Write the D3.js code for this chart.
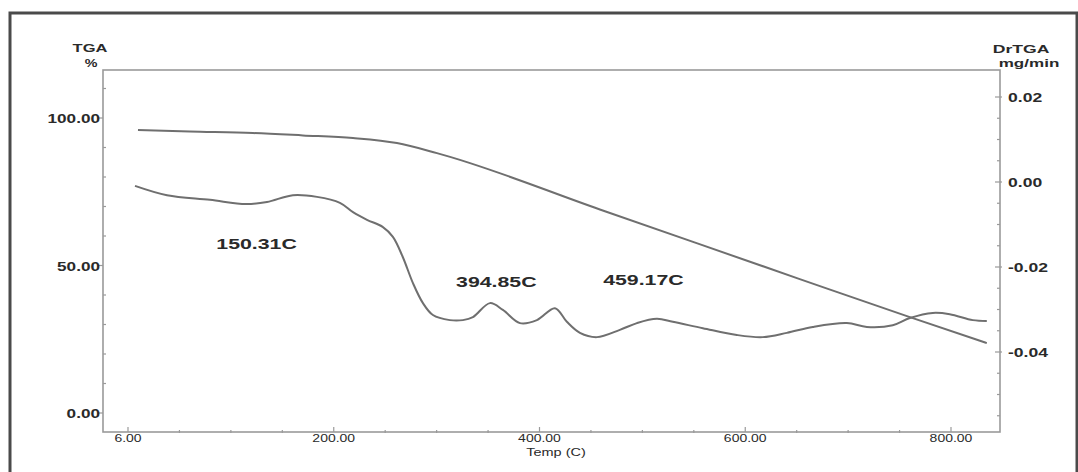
<!DOCTYPE html>
<html>
<head>
<meta charset="utf-8">
<script src="https://cdn.jsdelivr.net/npm/d3@7"></script>
<style>
  html, body { margin: 0; padding: 0; background: #fff; }
  svg { display: block; }
  text { font-family: "Liberation Sans", Arial, sans-serif; fill: #2a2a2a; }
</style>
</head>
<body>
<svg id="chart" width="1078" height="472"></svg>
<script>
// Temperature (C) for the TGA weight curve and its weight (%)
const tgaTemp = [9.7, 60, 121.5, 170, 218.7, 261.4, 300.3, 458.7, 653.0, 760.0, 834.8];
const tgaWeight = [95.9, 95.4, 94.9, 94.1, 93.2, 91.5, 88.1, 69.0, 45.4, 32.5, 23.7];

// Temperature (C) for the derivative curve and its rate (mg/min)
const dtgTemp = [6.8, 37.9, 79.7, 114.7, 135.1, 160.3, 183.7, 206.0, 218.7, 232.3,
  247.8, 257.5, 267.2, 277.0, 286.7, 296.4, 312.9, 325.6, 335.3, 351.8,
  364.4, 381.0, 397.5, 415.0, 426.6, 439.3, 455.8, 478.1, 494.7, 514.1,
  529.6, 558.8, 591.8, 617.1, 640.4, 665.7, 698.7, 718.2, 743.4, 760.0,
  782.3, 798.8, 821.2, 834.8];
const dtgRate = [-0.0009, -0.0031, -0.0042, -0.0052, -0.0047, -0.0031, -0.0035, -0.0049, -0.0071, -0.0089,
  -0.0106, -0.0129, -0.0177, -0.0238, -0.0285, -0.0313, -0.0325, -0.0325, -0.0318, -0.0285,
  -0.0301, -0.0332, -0.0325, -0.0297, -0.0329, -0.0355, -0.0365, -0.0348, -0.0332, -0.0322,
  -0.0329, -0.0344, -0.0360, -0.0365, -0.0355, -0.0341, -0.0332, -0.0341, -0.0337, -0.0320,
  -0.0308, -0.0311, -0.0325, -0.0327];

// Axis ticks
const xTickValues = [0, 200, 400, 600, 800];
const xTickLabels = ["6.00", "200.00", "400.00", "600.00", "800.00"];
const leftTickValues = [0, 50, 100];
const leftTickLabels = ["0.00", "50.00", "100.00"];
const rightTickValues = [0.02, 0.00, -0.02, -0.04];
const rightTickLabels = ["0.02", "0.00", "-0.02", "-0.04"];

// Peak annotations
const peakLabels = ["150.31C", "394.85C", "459.17C"];
const peakLabelTemp = [125, 358, 501];
const peakLabelRate = [-0.0146, -0.0236, -0.0231];

const svg = d3.select("#chart");
const plot = { left: 103, right: 1000, top: 70, bottom: 432 };

const x = d3.scaleLinear().domain([0, 800]).range([128, 951]);
const yL = d3.scaleLinear().domain([0, 100]).range([413, 118]);
const yR = d3.scaleLinear().domain([0.02, -0.04]).range([97, 352]);

// Stretched text helper (glyphs in this plot are drawn wide)
function label(x0, y0, str, size, sx, anchor, weight) {
  return svg.append("text")
    .attr("transform", `translate(${x0},${y0}) scale(${sx},1)`)
    .attr("text-anchor", anchor || "middle")
    .attr("font-size", size)
    .attr("font-weight", weight || "bold")
    .text(str);
}

// Outer frame
svg.append("path")
  .attr("d", "M10,472 L10,13 L1077,13 L1077,472")
  .attr("fill", "none").attr("stroke", "#4a4a4a").attr("stroke-width", 3);

// Plot frame
const frameColor = "#9a9a9a";
svg.append("rect")
  .attr("x", plot.left).attr("y", plot.top)
  .attr("width", plot.right - plot.left).attr("height", plot.bottom - plot.top)
  .attr("fill", "none").attr("stroke", frameColor).attr("stroke-width", 1.6);

// Bottom axis
const xAxis = d3.axisBottom(x).tickValues(xTickValues).tickSize(0).tickFormat(() => "");
svg.append("g").attr("transform", `translate(0,${plot.bottom})`).call(xAxis).call(g => g.select(".domain").remove());
svg.append("g").selectAll("line").data(xTickValues).join("line")
  .attr("x1", d => x(d)).attr("x2", d => x(d))
  .attr("y1", plot.bottom - 5).attr("y2", plot.bottom)
  .attr("stroke", frameColor).attr("stroke-width", 1.2);
svg.append("g").selectAll("line").data(d3.range(50, 850, 50).filter(v => v % 200 !== 0)).join("line")
  .attr("x1", d => x(d)).attr("x2", d => x(d))
  .attr("y1", plot.bottom - 2).attr("y2", plot.bottom + 1)
  .attr("stroke", frameColor).attr("stroke-width", 1.2);
xTickValues.forEach((v, i) => label(x(v), plot.bottom + 10, xTickLabels[i], 10, 1.4, "middle", "normal"));
label(556, 456, "Temp (C)", 10, 1.45, "middle", "normal");

// Left axis
svg.append("g").selectAll("line").data(leftTickValues).join("line")
  .attr("x1", plot.left - 5).attr("x2", plot.left)
  .attr("y1", d => yL(d)).attr("y2", d => yL(d))
  .attr("stroke", frameColor).attr("stroke-width", 1.2);
svg.append("g").selectAll("line").data(d3.range(-0, 120, 10).filter(v => v % 50 !== 0 && yL(v) > plot.top + 4)).join("line")
  .attr("x1", plot.left).attr("x2", plot.left + 3)
  .attr("y1", d => yL(d)).attr("y2", d => yL(d))
  .attr("stroke", frameColor).attr("stroke-width", 1.2);
leftTickValues.forEach((v, i) => label(plot.left - 3, yL(v) + 5, leftTickLabels[i], 13, 1.32, "end", "bold"));
label(90, 52, "TGA", 11, 1.5, "middle", "bold");
label(91, 67, "%", 11, 1.3, "middle", "bold");

// Right axis
svg.append("g").selectAll("line").data(rightTickValues).join("line")
  .attr("x1", plot.right - 5).attr("x2", plot.right + 2)
  .attr("y1", d => yR(d)).attr("y2", d => yR(d))
  .attr("stroke", frameColor).attr("stroke-width", 1.2);
svg.append("g").selectAll("line").data(d3.range(-0.055, 0.025, 0.005).filter(v => Math.abs(Math.round(v * 1000) % 20) !== 0 && yR(v) > plot.top + 4 && yR(v) < plot.bottom - 4)).join("line")
  .attr("x1", plot.right - 3).attr("x2", plot.right)
  .attr("y1", d => yR(d)).attr("y2", d => yR(d))
  .attr("stroke", frameColor).attr("stroke-width", 1.2);
rightTickValues.forEach((v, i) => label(plot.right + 8, yR(v) + 5, rightTickLabels[i], 13, 1.35, "start", "bold"));
label(1021, 53, "DrTGA", 11, 1.6, "middle", "bold");
label(1029, 67, "mg/min", 11, 1.55, "middle", "bold");

// Curves
const curveColor = "#6f6f6f";
const tgaLine = d3.line().curve(d3.curveMonotoneX)
  .x((d, i) => x(tgaTemp[i])).y(d => yL(d));
svg.append("path").datum(tgaWeight)
  .attr("d", tgaLine).attr("fill", "none")
  .attr("stroke", curveColor).attr("stroke-width", 2);

const dtgLine = d3.line().curve(d3.curveCatmullRom.alpha(0.5))
  .x((d, i) => x(dtgTemp[i])).y(d => yR(d));
svg.append("path").datum(dtgRate)
  .attr("d", dtgLine).attr("fill", "none")
  .attr("stroke", curveColor).attr("stroke-width", 2);

// Peak annotations
peakLabels.forEach((s, i) => label(x(peakLabelTemp[i]), yR(peakLabelRate[i]) + 5, s, 15, 1.42, "middle", "bold"));
</script>
</body>
</html>
